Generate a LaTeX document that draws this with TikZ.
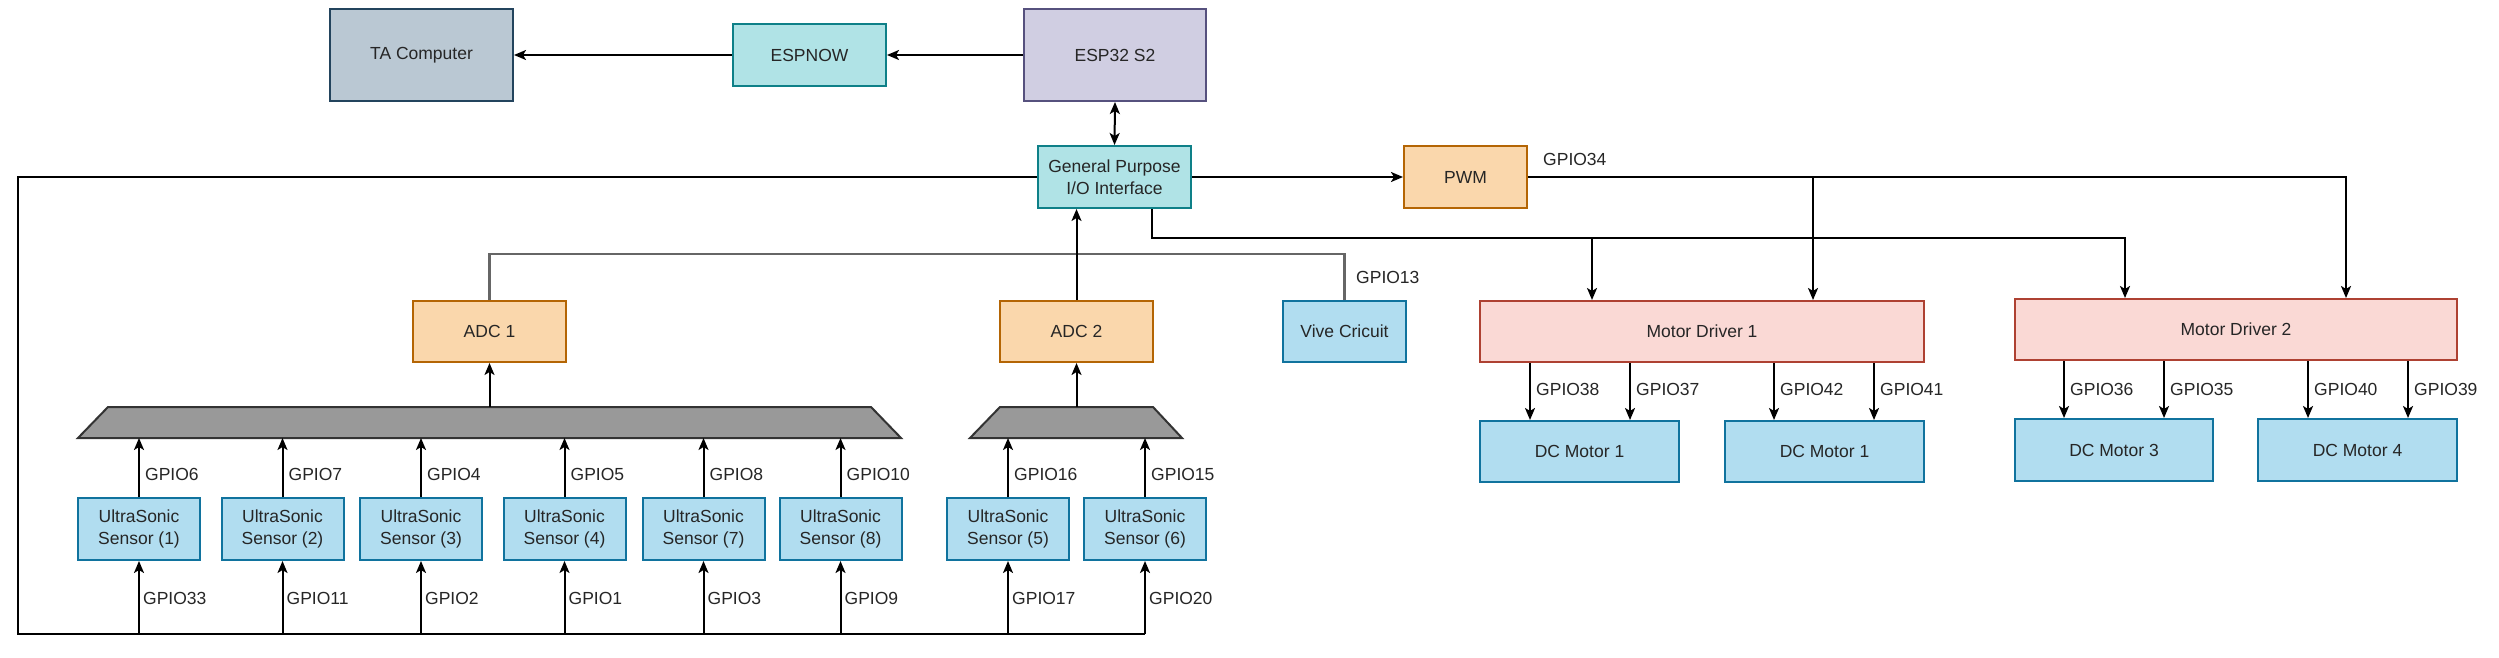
\documentclass[tikz,border=0pt]{standalone}
\usepackage{fontspec}
\setmainfont{Liberation Sans}
\usetikzlibrary{arrows.meta}
\definecolor{taF}{HTML}{BAC8D3}\definecolor{taD}{HTML}{23445D}
\definecolor{tlF}{HTML}{B0E3E6}\definecolor{tlD}{HTML}{0E8088}
\definecolor{puF}{HTML}{D0CEE2}\definecolor{puD}{HTML}{56517E}
\definecolor{orF}{HTML}{FAD7AC}\definecolor{orD}{HTML}{B46504}
\definecolor{blF}{HTML}{B1DDF0}\definecolor{blD}{HTML}{10739E}
\definecolor{rdF}{HTML}{FAD9D5}\definecolor{rdD}{HTML}{AE4132}
\definecolor{txt}{HTML}{262626}
\tikzset{
  box/.style={draw, line width=2pt, rectangle, inner sep=0pt, align=center, text=txt,
    font=\fontsize{17.5}{22.5}\selectfont},
  tabox/.style={box, fill=taF, draw=taD},
  tlbox/.style={box, fill=tlF, draw=tlD},
  pubox/.style={box, fill=puF, draw=puD},
  orbox/.style={box, fill=orF, draw=orD},
  blbox/.style={box, fill=blF, draw=blD},
  rdbox/.style={box, fill=rdF, draw=rdD},
  sensor/.style={blbox, minimum width=122pt, minimum height=62pt},
  conn/.style={line width=2pt, black},
  arr/.style={conn, -{Stealth[length=12pt,width=10pt,inset=3pt]}},
  darr/.style={conn, {Stealth[length=12pt,width=10pt,inset=3pt]}-{Stealth[length=12pt,width=10pt,inset=3pt]}},
  lbl/.style={anchor=west, inner sep=0pt, text=txt, font=\fontsize{17.5}{20}\selectfont},
  trap/.style={fill=black!40, draw=black!80, line width=2pt},
  grayline/.style={line width=2.6pt, black!60}
}
\begin{document}
\begin{tikzpicture}[x=1pt,y=-1pt]
\useasboundingbox[fill=white] (0,0) rectangle (2499,658);

% top row
\node[tabox, minimum width=183pt, minimum height=92pt] (ta) at (421.5,55) {TA Computer};
\node[tlbox, minimum width=153pt, minimum height=62pt] (espnow) at (809.5,55) {ESPNOW};
\node[pubox, minimum width=182pt, minimum height=92pt] (esp) at (1115,55) {ESP32 S2};
\node[tlbox, minimum width=153pt, minimum height=62pt] (gpio) at (1114.5,177) {General Purpose\\I/O Interface};
\node[orbox, minimum width=123pt, minimum height=62pt] (pwm) at (1465.5,177) {PWM};

% middle row
\node[orbox, minimum width=153pt, minimum height=61pt] (adc1) at (489.5,331.5) {ADC 1};
\node[orbox, minimum width=153pt, minimum height=61pt] (adc2) at (1076.5,331.5) {ADC 2};
\node[blbox, minimum width=123pt, minimum height=61pt] (vive) at (1344.5,331.5) {Vive Cricuit};
\node[rdbox, minimum width=444pt, minimum height=61pt] (md1) at (1702,331.5) {Motor Driver 1};
\node[rdbox, minimum width=442pt, minimum height=61pt] (md2) at (2236,329.5) {Motor Driver 2};

% DC motors
\node[blbox, minimum width=199pt, minimum height=61pt] (dc1) at (1579.5,451.5) {DC Motor 1};
\node[blbox, minimum width=199pt, minimum height=61pt] (dc2) at (1824.5,451.5) {DC Motor 1};
\node[blbox, minimum width=198pt, minimum height=62pt] (dc3) at (2114,450) {DC Motor 3};
\node[blbox, minimum width=199pt, minimum height=62pt] (dc4) at (2357.5,450) {DC Motor 4};

% sensors
\node[sensor] (s1) at (139,529) {UltraSonic\\Sensor (1)};
\node[sensor] (s2) at (282.5,529) {UltraSonic\\Sensor (2)};
\node[sensor] (s3) at (421,529) {UltraSonic\\Sensor (3)};
\node[sensor] (s4) at (564.5,529) {UltraSonic\\Sensor (4)};
\node[sensor] (s7) at (703.5,529) {UltraSonic\\Sensor (7)};
\node[sensor] (s8) at (840.5,529) {UltraSonic\\Sensor (8)};
\node[sensor] (s5) at (1008,529) {UltraSonic\\Sensor (5)};
\node[sensor] (s6) at (1145,529) {UltraSonic\\Sensor (6)};

% multiplexers
\draw[trap] (78,438) -- (108,407) -- (871,407) -- (901,438) -- cycle;
\draw[trap] (970,438) -- (1000,407) -- (1153,407) -- (1182,438) -- cycle;
\coordinate (t1) at (489.5,407);
\coordinate (t2) at (1076.5,407);
\coordinate (tb) at (0,438);

% top connectors
\draw[arr] (esp) -- (espnow);
\draw[arr] (espnow) -- (ta);
\draw[darr] (esp.south) -- (gpio.north);
\draw[arr] (gpio.east) -- (pwm.west);

% big loop to sensor bottoms
\coordinate (bl) at (17.5,177);
\coordinate (bb) at (17.5,634);
\draw[conn] (gpio.west) -- (bl) -- (bb) -- (s6.south |- bb);
\foreach \s/\g in {s1/GPIO33,s2/GPIO11,s3/GPIO2,s4/GPIO1,s7/GPIO3,s8/GPIO9,s5/GPIO17,s6/GPIO20}{
  \draw[arr] (\s.south |- bb) -- (\s.south);
  \node[lbl] at ([xshift=4pt,yshift=-37pt]\s.south) {\g};
}
\foreach \s/\g in {s1/GPIO6,s2/GPIO7,s3/GPIO4,s4/GPIO5,s7/GPIO8,s8/GPIO10,s5/GPIO16,s6/GPIO15}{
  \draw[arr] (\s.north) -- (\s.north |- tb);
  \node[lbl] at ([xshift=6pt,yshift=23pt]\s.north) {\g};
}

% mux to ADC
\draw[arr] (t1) -- (adc1.south);
\draw[arr] (t2) -- (adc2.south);

% ADC1 - Vive line
\coordinate (h) at (0,254);
\draw[grayline] (adc1.north) |- (h -| vive.north) -- (vive.north);
\draw[arr] (adc2.north) -- (gpio.south -| adc2.north);
\node[lbl] at (1356,277) {GPIO13};

% GPIO to motor drivers
\coordinate (q0) at (1152,238);
\coordinate (q1) at (1592,238);
\coordinate (q2) at (2125,238);
\draw[arr] (gpio.south -| q0) |- (q2) -- (md2.north -| q2);
\draw[arr] (q1) -- (md1.north -| q1);

% PWM to motor drivers
\coordinate (p1) at (1813,177);
\coordinate (p2) at (2346,177);
\draw[arr] (pwm.east) -- (p2) -- (md2.north -| p2);
\draw[arr] (p1) -- (md1.north -| p1);
\node[lbl] at (1543,159) {GPIO34};

% motor driver to DC motors
\foreach \x/\m/\d/\g in {1530/md1/dc1/GPIO38,1630/md1/dc1/GPIO37,1774/md1/dc2/GPIO42,1874/md1/dc2/GPIO41,
                        2064/md2/dc3/GPIO36,2164/md2/dc3/GPIO35,2308/md2/dc4/GPIO40,2408/md2/dc4/GPIO39}{
  \draw[arr] (\m.south -| \x,0) -- (\d.north -| \x,0);
  \node[lbl] at (\x+6,389) {\g};
}
\end{tikzpicture}
\end{document}
